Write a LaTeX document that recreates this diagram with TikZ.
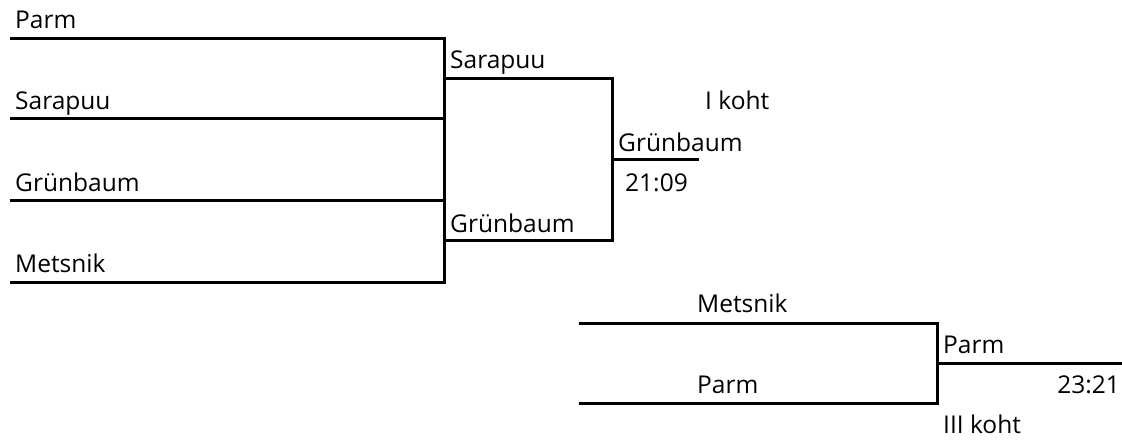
\documentclass[tikz,border=0pt]{standalone}
\usepackage{fontspec}
\setmainfont{Open Sans}
\begin{document}
\begin{tikzpicture}[x=1pt,y=-1pt,
  lbl/.style={anchor=base west,inner sep=0pt,font=\fontsize{24.5}{28}\selectfont},
  lblr/.style={anchor=base east,inner sep=0pt,font=\fontsize{24.5}{28}\selectfont},
  bline/.style={line width=3pt,line join=miter}]
\useasboundingbox (0,0) rectangle (1122,443);
% round 1 coordinates
\coordinate (a1) at (9.5,38.5);  \coordinate (a2) at (444,38.5);
\coordinate (b1) at (9.5,119);   \coordinate (b2) at (444,119);
\coordinate (c1) at (9.5,201);   \coordinate (c2) at (444,201);
\coordinate (d1) at (9.5,283);   \coordinate (d2) at (444,283);
% round 2
\coordinate (e1) at (444,79);    \coordinate (e2) at (612,79);
\coordinate (f1) at (444,241);   \coordinate (f2) at (612,241);
\coordinate (g1) at (612,160);   \coordinate (g2) at (698.5,160);
% third place
\coordinate (h1) at (579,323.5); \coordinate (h2) at (937.5,323.5);
\coordinate (i1) at (579,404);   \coordinate (i2) at (937.5,404);
\coordinate (j1) at (937.5,363.5); \coordinate (j2) at (1122,363.5);

\draw[bline] (a1) -- (a2) -- (d2) -- (d1);
\draw[bline] (b1) -- (b2);
\draw[bline] (c1) -- (c2);
\draw[bline] (e1) -- (e2) -- (f2) -- (f1);
\draw[bline] (g1) -- (g2);
\draw[bline] (h1) -- (h2) -- (i2) -- (i1);
\draw[bline] (j1) -- (j2);

% labels
\node[lbl] (t1) at (15,29) {Parm};
\node[lbl] (t2) at (15,110) {Sarapuu};
\node[lbl] (t3) at (15,191.5) {Grünbaum};
\node[lbl] (t4) at (15,273) {Metsnik};
\node[lbl] (t5) at (450,69) {Sarapuu};
\node[lbl] (t6) at (450,232.5) {Grünbaum};
\node[lbl] (t7) at (618,151.5) {Grünbaum};
\node[lbl] (t8) at (625,191.5) {21:09};
\node[lbl] (t9) at (705,110) {I koht};
\node[lbl] (t10) at (697,312.5) {Metsnik};
\node[lbl] (t11) at (697,394) {Parm};
\node[lbl] (t12) at (943,354) {Parm};
\node[lblr] (t13) at (1120,394) {23:21};
\node[lbl] (t14) at (943,434) {III koht};
\end{tikzpicture}
\end{document}
